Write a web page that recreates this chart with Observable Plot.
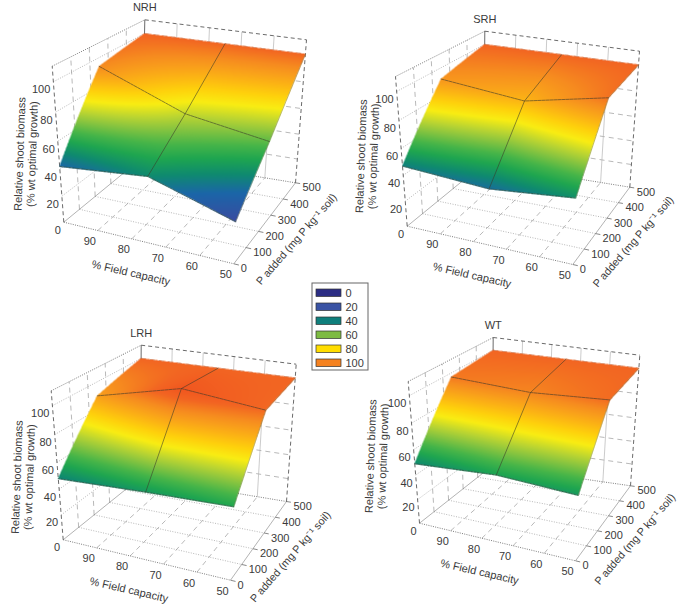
<!DOCTYPE html>
<html>
<head>
<meta charset="utf-8">
<script src="https://cdn.jsdelivr.net/npm/d3@7"></script>
<script src="https://cdn.jsdelivr.net/npm/@observablehq/plot@0.6"></script>
<style>html,body{margin:0;padding:0;background:#fff}svg{display:block}</style>
</head>
<body>
<div id="chart"></div>
<script>
// ---- values ----
const fieldCapacity = [100, 75, 50];
const pAdded = [0, 250, 500];
// rows: P added; columns: field capacity
const biomassNRH = [[42, 49, 31], [94, 71, 62], [100, 100, 100]];
const biomassSRH = [[47, 43.5, 50], [92, 86, 98], [100, 100, 100]];
const biomassLRH = [[48, 52, 55], [90, 105, 99.4], [100, 100, 100]];
const biomassWT = [[49, 54, 52], [97, 95, 99], [100, 100, 100]];
const zTicks = [0, 20, 40, 60, 80, 100];
const fcTicks = [90, 80, 70, 60, 50];
const pTicks = [0, 100, 200, 300, 400, 500];
const legendValues = [0, 20, 40, 60, 80, 100];
const legendColors = ["#2b2d84", "#3a53a4", "#0f7f7c", "#7dbb42", "#ffdd00", "#f58220"];
const surfaceDomain = [20, 31, 42, 49, 55, 60, 66, 70, 76, 81, 86, 90, 94, 97, 100, 105];
const surfaceColors = ["#3a3f9c", "#3b4ba0", "#1b66a8", "#0f8a70", "#1fa650", "#46b549", "#8cc63f", "#b8d433", "#f9ed13", "#fed20c", "#fcb514", "#f9a01b", "#f68c1f", "#f47920", "#f26522", "#f1561f"];

// ---- 3D box layout of each panel: screen corners of floor and ceiling ----
const zMax = 110;
const panels = [
  {name: "NRH", values: biomassNRH, titleOff: [-38, 10],
   base: [[63.3, 221.7], [233.3, 263.3], [295, 182.3], [141.7, 157.3]],
   top: [[51.7, 65.7], [240, 102], [306, 39.3], [144.3, 19.3]]},
  {name: "SRH", values: biomassSRH, titleOff: [-40, 5],
   base: [[406.7, 225.7], [572.3, 264], [629.3, 186.7], [483.3, 163]],
   top: [[395, 76], [579, 109], [639, 50.7], [484.3, 30.7]]},
  {name: "LRH", values: biomassLRH, titleOff: [-40, 12],
   base: [[62.7, 539.3], [230, 579.7], [286, 501], [140, 477]],
   top: [[50.7, 390.3], [236.7, 424.7], [295.7, 363.7], [140.7, 344.7]]},
  {name: "WT", values: biomassWT, titleOff: [-43, 4],
   base: [[419, 522.7], [575, 560.3], [630, 485.3], [491.7, 465.3]],
   top: [[407.7, 381], [581, 413.7], [639.3, 354.7], [492.7, 337]]}
];

const bil = (q, u, v, i) =>
  (1 - v) * ((1 - u) * q[0][i] + u * q[1][i]) + v * ((1 - u) * q[3][i] + u * q[2][i]);
// perspective along the vertical axis
function project(pn, fc, p, z) {
  const u = (100 - fc) / 50, v = p / 500, r = z / zMax, w = 9 * r / (10 - r);
  return [0, 1].map(i => bil(pn.base, u, v, i) + (bil(pn.top, u, v, i) - bil(pn.base, u, v, i)) * w);
}
// bilinear reading of the mesh
function surfaceZ(pn, fc, p) {
  const a = Math.min(1.999999, (100 - fc) / 25), b = Math.min(1.999999, p / 250);
  const i = Math.floor(a), j = Math.floor(b), s = a - i, t = b - j, g = pn.values;
  return (1 - t) * ((1 - s) * g[j][i] + s * g[j][i + 1]) + t * ((1 - s) * g[j + 1][i] + s * g[j + 1][i + 1]);
}

// ---- surface: biomass sampled onto a screen raster (2x) ----
const W = 678 * 2, H = 607 * 2;
const raster = new Float64Array(W * H).fill(NaN);
panels.forEach(pn => {
  const nU = 700, nV = 1500;
  for (let a = 0; a <= nU; ++a) {
    const fc = 100 - 50 * a / nU;
    for (let b = 0; b <= nV; ++b) {
      const p = 500 * b / nV, z = surfaceZ(pn, fc, p), P = project(pn, fc, p, z);
      const ix = Math.floor(P[0] * 2), iy = Math.floor(P[1] * 2);
      if (ix >= 0 && ix < W && iy >= 0 && iy < H) raster[iy * W + ix] = z;
    }
  }
});

// ---- box lines ----
const seg = {gDash: [], gDot: [], gSolid: [], kDot: [], kDash: [], kSolid: [], gEdge: [], tick: []};
const add = (key, pn, a, b) => {
  const A = project(pn, ...a), B = project(pn, ...b);
  seg[key].push({x1: A[0], y1: A[1], x2: B[0], y2: B[1]});
};
panels.forEach(pn => {
  for (const f of fcTicks.slice(0, 4)) {
    add("gDash", pn, [f, 0, 0], [f, 500, 0]);
    add("gSolid", pn, [f, 500, 0], [f, 500, zMax]);
  }
  for (const p of pTicks.slice(1, 5)) {
    add("gDot", pn, [100, p, 0], [50, p, 0]);
    add("gDash", pn, [100, p, 0], [100, p, zMax]);
  }
  for (const z of zTicks.slice(1)) {
    add("gDot", pn, [100, 0, z], [100, 500, z]);
    add("gDash", pn, [100, 500, z], [50, 500, z]);
  }
  add("kDot", pn, [100, 0, 0], [50, 0, 0]);
  add("kDot", pn, [100, 500, 0], [50, 500, 0]);
  add("kDot", pn, [100, 0, zMax], [100, 500, zMax]);
  add("kDash", pn, [100, 500, zMax], [50, 500, zMax]);
  add("kDash", pn, [100, 0, 0], [100, 0, zMax]);
  add("kDash", pn, [50, 500, 0], [50, 500, zMax]);
  add("kSolid", pn, [100, 500, 0], [100, 500, zMax]);
  add("gEdge", pn, [100, 0, 0], [100, 500, 0]);
  add("gEdge", pn, [50, 0, 0], [50, 500, 0]);
  for (const p of pTicks) add("tick", pn, [50, p, 0], [48.5, p, 0]);
});

// ---- mesh lines on the surface ----
const meshLines = (filter) => {
  const out = [];
  panels.forEach(pn => {
    fieldCapacity.forEach((fc, i) => {
      if (filter("fc", i)) pAdded.forEach(p => {
        const P = project(pn, fc, p, surfaceZ(pn, fc, p));
        out.push({k: pn.name + "f" + i, x: P[0], y: P[1]});
      });
    });
    pAdded.forEach((p, j) => {
      if (filter("p", j)) fieldCapacity.forEach(fc => {
        const P = project(pn, fc, p, surfaceZ(pn, fc, p));
        out.push({k: pn.name + "p" + j, x: P[0], y: P[1]});
      });
    });
  });
  return out;
};
const meshMidFc = meshLines((kind, i) => kind === "fc" && i === 1);
const meshMidP = meshLines((kind, i) => kind === "p" && i === 1);
const meshFront = meshLines((kind, i) => kind === "p" && i === 0);
const meshSide = meshLines((kind, i) => kind === "fc" && i === 2);

// ---- labels ----
const zLabels = [], fcLabels = [], pLabels = [], names = [], zt1 = [], zt2 = [], fcTitles = [], pTitles = [];
panels.forEach(pn => {
  zTicks.forEach(z => { const P = project(pn, 100, 0, z); zLabels.push({x: P[0], y: P[1], t: String(z)}); });
  fcTicks.forEach(f => { const P = project(pn, f, 0, 0); fcLabels.push({x: P[0], y: P[1], t: String(f)}); });
  pTicks.forEach(p => { const P = project(pn, 50, p, 0); pLabels.push({x: P[0], y: P[1], t: String(p)}); });
  const T = project(pn, 100, 500, zMax); names.push({x: T[0], y: T[1], t: pn.name});
  const M = project(pn, 100, 0, 58);
  zt1.push({x: M[0] + pn.titleOff[0], y: M[1] + pn.titleOff[1]});
  zt2.push({x: M[0] + pn.titleOff[0] + 12.5, y: M[1] + pn.titleOff[1]});
  const F = project(pn, 75, 0, 0); fcTitles.push({x: F[0], y: F[1]});
  const G = project(pn, 50, 250, 0); pTitles.push({x: G[0], y: G[1]});
});

// ---- legend ----
const legendBox = {x: 312, y: 283, w: 56, h: 87, sx: 316, sw: 25, sh: 7.5, y0: 289, step: 14};
const legendRows = legendValues.map((v, i) => ({
  v, c: legendColors[i],
  x1: legendBox.sx, x2: legendBox.sx + legendBox.sw,
  y1: legendBox.y0 + i * legendBox.step, y2: legendBox.y0 + i * legendBox.step + legendBox.sh
}));

const ink = "#3a3a3a";
const font = {fontFamily: "Liberation Sans, Arial, sans-serif", fill: ink, lineAnchor: "middle"};
const link = (data, o) => Plot.link(data, {x1: "x1", y1: "y1", x2: "x2", y2: "y2", ...o});
const txt = (data, o) => Plot.text(data, {x: "x", y: "y", ...font, ...o});

const chart = Plot.plot({
  width: 678, height: 607, margin: 0,
  style: {background: "#fff"},
  x: {domain: [0, 678], range: [0, 678], axis: null},
  y: {domain: [0, 607], range: [0, 607], axis: null},
  color: {type: "linear", domain: surfaceDomain, range: surfaceColors},
  marks: [
    link(seg.gDash, {stroke: "#9a9a9a", strokeWidth: 0.7, strokeDasharray: "5,4"}),
    link(seg.gDot, {stroke: "#9a9a9a", strokeWidth: 0.7, strokeDasharray: "1,1.5"}),
    link(seg.gSolid, {stroke: "#b5b5b5", strokeWidth: 0.7}),
    link(seg.gEdge, {stroke: "#808080", strokeWidth: 0.6}),
    link(seg.kDot, {stroke: "#444", strokeWidth: 0.7, strokeDasharray: "1,1.3"}),
    link(seg.kDash, {stroke: "#444", strokeWidth: 0.8, strokeDasharray: "4,3"}),
    link(seg.kSolid, {stroke: "#444", strokeWidth: 0.8}),
    link(seg.tick, {stroke: "#555", strokeWidth: 0.7}),
    Plot.raster(raster, {width: W, height: H, x1: 0, y1: 0, x2: 678, y2: 607}),
    Plot.line(meshSide, {x: "x", y: "y", z: "k", stroke: "#5a5a20", strokeWidth: 0.5, strokeOpacity: 0.7}),
    Plot.line(meshFront, {x: "x", y: "y", z: "k", stroke: "#1f3f30", strokeWidth: 0.7, strokeDasharray: "2,1", strokeOpacity: 0.9}),
    Plot.line(meshMidFc, {x: "x", y: "y", z: "k", stroke: "#3a3a2a", strokeWidth: 0.7, strokeOpacity: 0.8}),
    Plot.line(meshMidP, {x: "x", y: "y", z: "k", stroke: "#3a3a2a", strokeWidth: 0.7, strokeOpacity: 0.85, strokeDasharray: "3,1"}),
    txt(names, {text: "t", dy: -12, fontSize: 11}),
    txt(zLabels, {text: "t", textAnchor: "end", dx: -3, dy: 8, fontSize: 11}),
    txt(fcLabels, {text: "t", dx: -8, dy: 11, fontSize: 11}),
    txt(pLabels, {text: "t", textAnchor: "start", dx: 7, dy: 5, fontSize: 11}),
    txt(zt1, {text: () => "Relative shoot biomass", rotate: -88, fontSize: 11}),
    txt(zt2, {text: () => "(% wt optimal growth)", rotate: -88, fontSize: 11}),
    txt(fcTitles, {text: () => "% Field capacity", rotate: 13, dx: -18, dy: 30, fontSize: 11}),
    txt(pTitles, {text: () => "P added (mg P kg⁻¹ soil)", rotate: -49, dx: 32, dy: 16, fontSize: 10.8}),
    Plot.rect([legendBox], {x1: d => d.x, x2: d => d.x + d.w, y1: d => d.y, y2: d => d.y + d.h, fill: "white", stroke: "#666", strokeWidth: 1}),
    Plot.rect(legendRows, {x1: "x1", x2: "x2", y1: "y1", y2: "y2", fill: {value: "c", scale: null}, stroke: "#333", strokeWidth: 0.7}),
    Plot.text(legendRows, {x: "x2", y: d => (d.y1 + d.y2) / 2, text: d => String(d.v), textAnchor: "start", dx: 4, fontSize: 11, ...font})
  ]
});
document.getElementById("chart").append(chart);
</script>
</body>
</html>
